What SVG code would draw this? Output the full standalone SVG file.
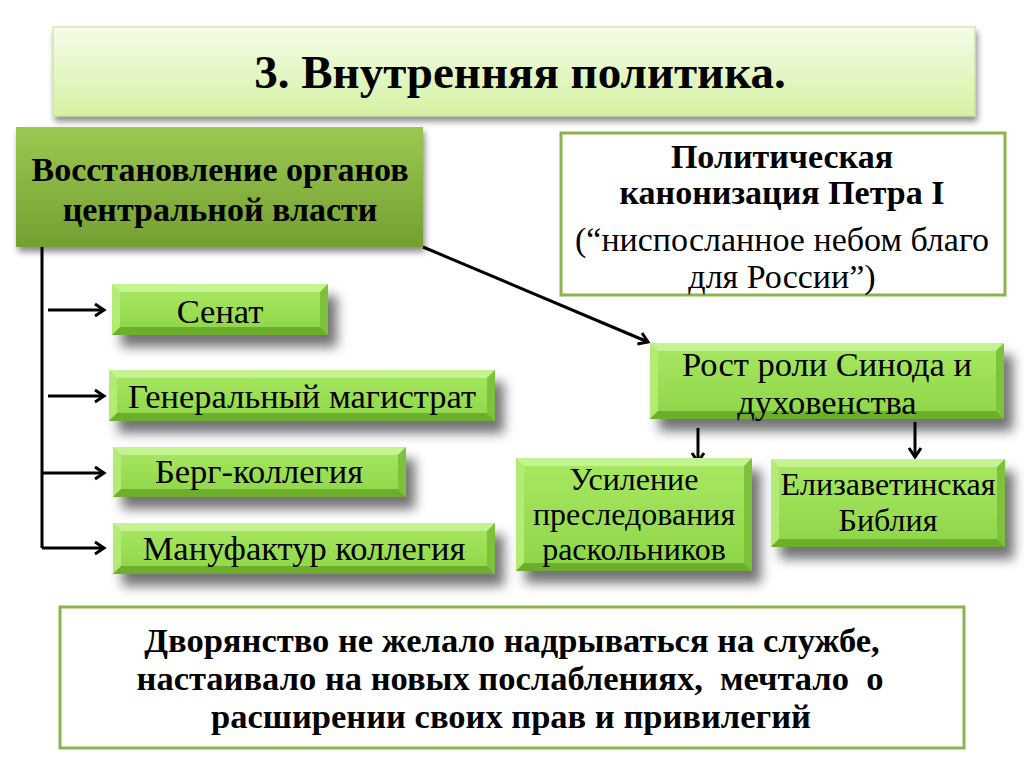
<svg xmlns="http://www.w3.org/2000/svg" width="1024" height="767" viewBox="0 0 1024 767">
<defs>
<linearGradient id="gTitle" x1="0" y1="0" x2="0" y2="1"><stop offset="0" stop-color="#f4fce8"/><stop offset="1" stop-color="#d5f2a3"/></linearGradient>
<linearGradient id="gMain" x1="0" y1="0" x2="0" y2="1"><stop offset="0" stop-color="#9cc752"/><stop offset="1" stop-color="#74a032"/></linearGradient>
<linearGradient id="gBox" x1="0" y1="0" x2="0" y2="1"><stop offset="0" stop-color="#a8e862"/><stop offset="1" stop-color="#8ed548"/></linearGradient>
<filter id="sh" x="-20%" y="-30%" width="150%" height="190%"><feDropShadow dx="9" dy="12" stdDeviation="6" flood-color="#000" flood-opacity="0.55"/></filter>
<filter id="shs" x="-10%" y="-30%" width="120%" height="170%"><feDropShadow dx="2" dy="5" stdDeviation="3" flood-color="#000" flood-opacity="0.45"/></filter>
<marker id="ah" markerUnits="userSpaceOnUse" markerWidth="16" markerHeight="16" viewBox="0 0 16 16" refX="13" refY="8" orient="auto"><path d="M4,2 L13,8 L4,14" fill="none" stroke="#000" stroke-width="3"/></marker>
</defs>
<style>
text{fill:#000;text-anchor:middle}
.b{font-weight:bold}
.t32{font-size:32px}
.t34{font-size:34px}
.t345{font-size:34.5px}
.box{fill:url(#gBox);filter:url(#sh)}
.bt{fill:#c6f392}
.bl{fill:#b3ec74}
.br{fill:#7ec23c}
.bb{fill:#6dae2c}
.wb{fill:#fff;stroke:#8db34c;stroke-width:3}
.cn{stroke:#000;stroke-width:3;fill:none}
</style>
<rect width="1024" height="767" fill="#fff"/>
<g font-family="Liberation Serif, DejaVu Serif, serif">

<g id="title">
<rect x="53" y="27" width="922" height="89" fill="url(#gTitle)" stroke="#c2de98" stroke-width="1" filter="url(#shs)"/>
<text class="b" x="520" y="88" font-size="47">3. Внутренняя политика.</text>
</g>

<g id="main">
<rect x="16" y="127" width="407" height="120" fill="url(#gMain)" filter="url(#shs)"/>
<text class="b t34" x="220" y="181">Восстановление органов</text>
<text class="b t34" x="220" y="221">центральной власти</text>
</g>

<g id="canon">
<rect class="wb" x="561" y="133" width="444" height="162"/>
<text class="b t34" x="782" y="168">Политическая</text>
<text class="b t34" x="782" y="204">канонизация Петра I</text>
<text class="t34" x="782" y="251">(“ниспосланное небом благо</text>
<text class="t34" x="782" y="288">для России”)</text>
</g>

<g id="connectors">
<path class="cn" d="M42,247 V548"/>
<path class="cn" d="M48,310 H104" marker-end="url(#ah)"/>
<path class="cn" d="M48,396 H104" marker-end="url(#ah)"/>
<path class="cn" d="M42,473 H104" marker-end="url(#ah)"/>
<path class="cn" d="M42,548 H104" marker-end="url(#ah)"/>
<path class="cn" d="M423,247 L648,342" marker-end="url(#ah)"/>
<path class="cn" d="M698,428 V462" marker-end="url(#ah)"/>
<path class="cn" d="M915,422 V457" marker-end="url(#ah)"/>
</g>

<g id="senat">
<rect class="box" x="112" y="284" width="216" height="51"/>
<polygon class="bt" points="112,284 328,284 320,292 120,292"/>
<polygon class="bl" points="112,284 120,292 120,327 112,335"/>
<polygon class="br" points="328,284 328,335 320,327 320,292"/>
<polygon class="bb" points="112,335 120,327 320,327 328,335"/>
<text class="t345" x="220" y="323">Сенат</text>
</g>

<g id="magistrat">
<rect class="box" x="109" y="370" width="386" height="51"/>
<polygon class="bt" points="109,370 495,370 487,378 117,378"/>
<polygon class="bl" points="109,370 117,378 117,413 109,421"/>
<polygon class="br" points="495,370 495,421 487,413 487,378"/>
<polygon class="bb" points="109,421 117,413 487,413 495,421"/>
<text class="t345" x="302" y="408">Генеральный магистрат</text>
</g>

<g id="berg">
<rect class="box" x="113" y="447" width="293" height="50"/>
<polygon class="bt" points="113,447 406,447 398,455 121,455"/>
<polygon class="bl" points="113,447 121,455 121,489 113,497"/>
<polygon class="br" points="406,447 406,497 398,489 398,455"/>
<polygon class="bb" points="113,497 121,489 398,489 406,497"/>
<text class="t345" x="259" y="483">Берг-коллегия</text>
</g>

<g id="manufaktur">
<rect class="box" x="113" y="523" width="382" height="51"/>
<polygon class="bt" points="113,523 495,523 487,531 121,531"/>
<polygon class="bl" points="113,523 121,531 121,566 113,574"/>
<polygon class="br" points="495,523 495,574 487,566 487,531"/>
<polygon class="bb" points="113,574 121,566 487,566 495,574"/>
<text class="t345" x="304" y="560">Мануфактур коллегия</text>
</g>

<g id="sinod">
<rect class="box" x="650" y="343" width="354" height="76"/>
<polygon class="bt" points="650,343 1004,343 996,351 658,351"/>
<polygon class="bl" points="650,343 658,351 658,411 650,419"/>
<polygon class="br" points="1004,343 1004,419 996,411 996,351"/>
<polygon class="bb" points="650,419 658,411 996,411 1004,419"/>
<text class="t345" x="827" y="376">Рост роли Синода и</text>
<text class="t345" x="827" y="414">духовенства</text>
</g>

<g id="usilenie">
<rect class="box" x="516" y="458" width="236" height="113"/>
<polygon class="bt" points="516,458 752,458 744,466 524,466"/>
<polygon class="bl" points="516,458 524,466 524,563 516,571"/>
<polygon class="br" points="752,458 752,571 744,563 744,466"/>
<polygon class="bb" points="516,571 524,563 744,563 752,571"/>
<text class="t32" x="634" y="490">Усиление</text>
<text class="t32" x="634" y="525">преследования</text>
<text class="t32" x="634" y="560">раскольников</text>
</g>

<g id="bible">
<rect class="box" x="771" y="459" width="234" height="88"/>
<polygon class="bt" points="771,459 1005,459 997,467 779,467"/>
<polygon class="bl" points="771,459 779,467 779,539 771,547"/>
<polygon class="br" points="1005,459 1005,547 997,539 997,467"/>
<polygon class="bb" points="771,547 779,539 997,539 1005,547"/>
<text class="t32" x="888" y="495">Елизаветинская</text>
<text class="t32" x="888" y="531">Библия</text>
</g>

<g id="dvoryanstvo">
<rect class="wb" x="60" y="607" width="904" height="141"/>
<text class="b t345" x="512" y="652">Дворянство не желало надрываться на службе,</text>
<text class="b t345" x="510" y="690" xml:space="preserve">настаивало на новых послаблениях,  мечтало  о</text>
<text class="b t345" x="511" y="728">расширении своих прав и привилегий</text>
</g>
</g>
</svg>
